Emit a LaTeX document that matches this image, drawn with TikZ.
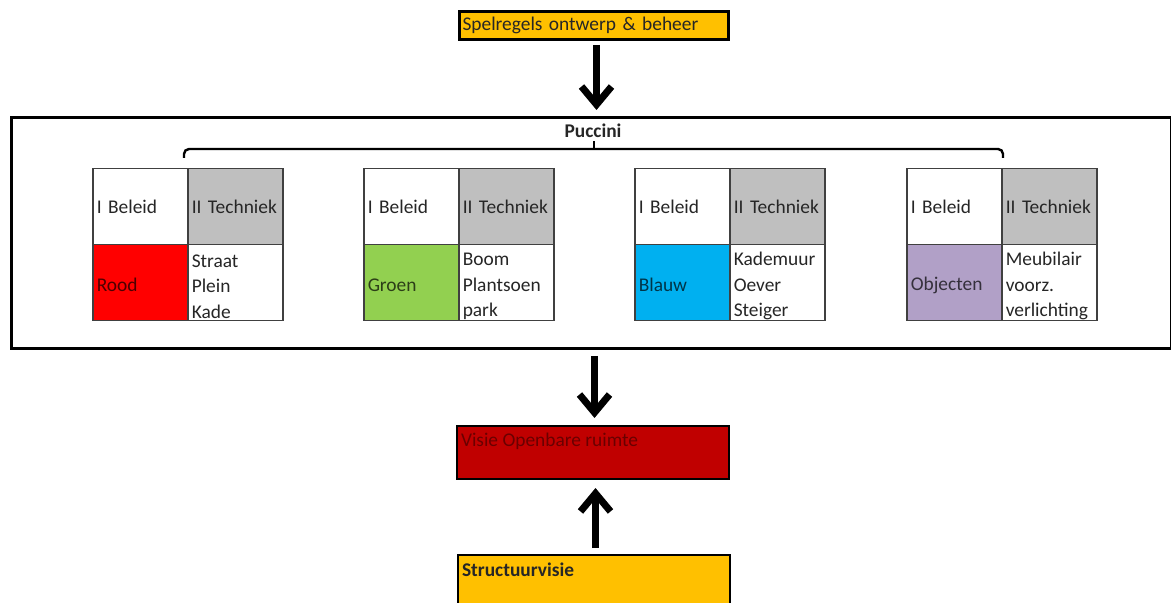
\documentclass[tikz,border=0pt]{standalone}
\usepackage{fontspec}
\setmainfont{Carlito}
\usetikzlibrary{arrows.meta}
\definecolor{gold}{HTML}{FFC000}
\definecolor{darkred}{HTML}{C00000}
\definecolor{cellgray}{HTML}{BFBFBF}
\definecolor{rood}{HTML}{FF0000}
\definecolor{groen}{HTML}{92D050}
\definecolor{blauw}{HTML}{00B0F0}
\definecolor{paars}{HTML}{B1A0C7}
\definecolor{gridline}{HTML}{404040}
\definecolor{txt}{HTML}{262626}
\newcommand\ptable[5]{%
  \node[cell, fill=white] (#1bel) at (#2,168) {I Beleid};
  \node[cell, fill=cellgray] (#1tech) at (#2+95,168) {II Techniek};
  \node[cell, fill=#3, text=#3!30!black] (#1kleur) at (#2,244) {\rule{0pt}{9.3pt}#4};
  \node[cell, fill=white] (#1lijst) at (#2+95,244) {\rule{0pt}{10.3pt}#5};
}
\begin{document}
\begin{tikzpicture}[x=0.5pt,y=-0.5pt,
  every node/.style={font=\fontsize{9.7}{12.75}\selectfont, text=txt},
  cell/.style={draw=gridline, line width=0.75pt, anchor=north west,
    inner xsep=2pt, inner ysep=0pt, text width=43.5pt, align=left,
    minimum height=38pt},
  bigarrow/.style={line width=3.5pt, -{Straight Barb[length=9pt, width=15pt]}},
  labelbox/.style={draw=black, anchor=north west, inner xsep=2pt}
]
\useasboundingbox (0,0) rectangle (1171,603);

% top box
\node[labelbox, fill=gold, line width=1.5pt, inner ysep=0pt, minimum height=14pt,
  text width=131.5pt, align=left, inner xsep=1.5pt] (spel) at (458,10) {Spelregels ontwerp \& beheer};

% frame
\node[draw=black, line width=1.5pt, minimum width=580pt, minimum height=115.5pt,
  anchor=north west, inner sep=0pt] (frame) at (10,116) {};
\node[font=\fontsize{9.7}{12}\selectfont\bfseries] (puccini) at (593,131) {Puccini};

% brace
\draw[line width=1.2pt, rounded corners=2.5pt] (184,158) -- (184,149) -- (1003,149) -- (1003,158);
\draw[line width=1.2pt] (594,149) -- (594,141);

% tables
\ptable{a}{92}{rood}{Rood}{Straat\\Plein\\Kade}
\ptable{b}{363}{groen}{Groen}{Boom\\Plantsoen\\park}
\ptable{c}{634}{blauw}{Blauw}{Kademuur\\Oever\\Steiger}
\ptable{d}{906}{paars}{Objecten}{Meubilair\\voorz.\\verlichting}

% visie box
\node[labelbox, fill=darkred, line width=1pt, inner ysep=3.5pt, text=darkred!55!black]
  (visie) at (456,425) {\parbox[c][19.5pt][t]{132pt}{Visie Openbare ruimte}};

% structuurvisie box
\node[labelbox, fill=gold, line width=1pt, inner ysep=4pt,
  font=\fontsize{9.7}{12}\selectfont\bfseries]
  (struct) at (457,554) {\parbox[c][26pt][t]{132pt}{Structuurvisie}};

% arrows
\draw[bigarrow, shorten <=2pt, shorten >=3pt]
  ([xshift=1.25pt]spel.south) -- ([xshift=1.25pt]spel.south |- frame.north);
\draw[bigarrow, shorten <=3pt, shorten >=3.5pt]
  ([xshift=0.75pt]visie.north |- frame.south) -- ([xshift=0.75pt]visie.north);
\draw[bigarrow, shorten <=3pt, shorten >=4pt]
  ([xshift=0.75pt]struct.north) -- ([xshift=0.75pt]struct.north |- visie.south);
\end{tikzpicture}
\end{document}
